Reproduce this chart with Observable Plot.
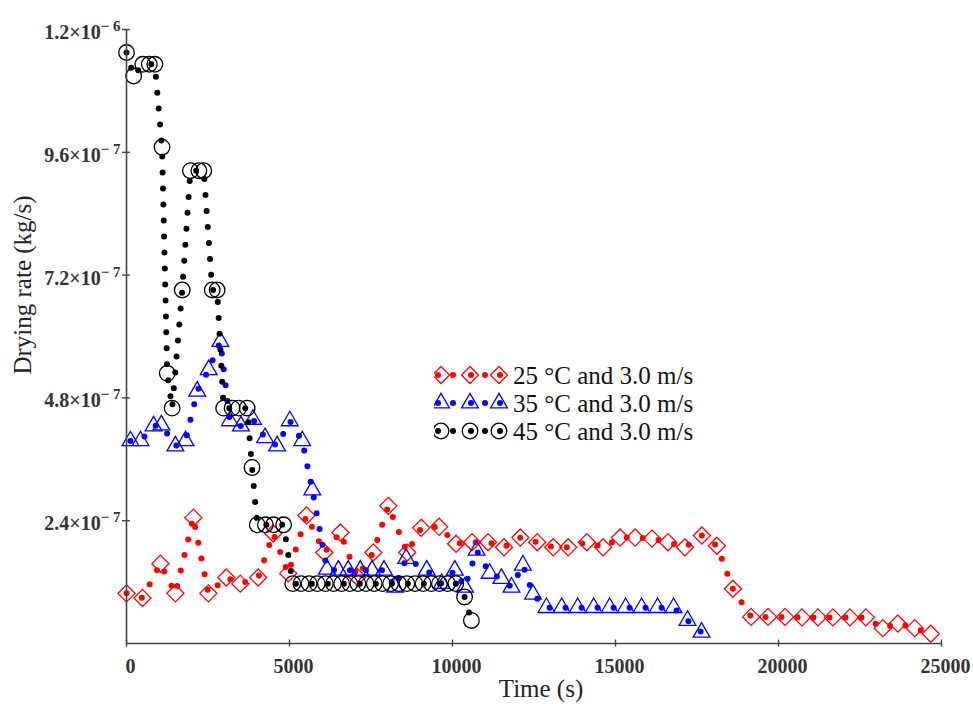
<!DOCTYPE html>
<html><head><meta charset="utf-8">
<script src="https://cdn.jsdelivr.net/npm/d3@7"></script>
<script src="https://cdn.jsdelivr.net/npm/@observablehq/plot@0.6"></script>
<style>body{margin:0;background:#fff;} #chart{position:relative;width:973px;height:704px;}</style>
</head><body><div id="chart"></div>
<script>
// ---- data (time in s, drying rate in kg/s) ----
const redT = [0,490,1040,1500,2050,2510,3060,3490,4040,4500,4960,5520,6070,6560,7080,7570,8030,8610,9040,9590,10110,10600,11090,11580,12080,12600,13090,13550,14120,14620,15140,15600,16120,16610,17130,17650,18110,18600,19160,19680,20200,20720,21210,21670,22190,22680,23200,23660,24180,24670];
const redV = [0.98e-7,0.89e-7,1.56e-7,0.98e-7,2.46e-7,0.98e-7,1.29e-7,1.17e-7,1.29e-7,2.15e-7,1.37e-7,2.50e-7,1.78e-7,2.17e-7,1.30e-7,1.78e-7,2.69e-7,1.78e-7,2.26e-7,2.28e-7,1.95e-7,1.98e-7,1.98e-7,1.88e-7,2.07e-7,1.98e-7,1.88e-7,1.88e-7,1.98e-7,1.88e-7,2.07e-7,2.07e-7,2.05e-7,1.98e-7,1.88e-7,2.11e-7,1.91e-7,1.07e-7,0.52e-7,0.52e-7,0.52e-7,0.51e-7,0.51e-7,0.51e-7,0.51e-7,0.51e-7,0.30e-7,0.39e-7,0.30e-7,0.19e-7];

const blueT = [120,430,830,1070,1500,1810,2170,2520,2880,3170,3510,3880,4250,4620,5010,5390,5700,6150,6500,6800,7170,7530,7900,8240,8580,9210,9670,10070,10380,10740,11140,11500,11810,12160,12470,12880,13350,13840,14330,14820,15310,15800,16290,16780,17210,17640];
const blueV = [3.96e-7,3.96e-7,4.25e-7,4.27e-7,3.86e-7,3.96e-7,4.93e-7,5.35e-7,5.90e-7,4.35e-7,4.25e-7,4.38e-7,4.02e-7,3.86e-7,4.35e-7,3.96e-7,3.00e-7,1.45e-7,1.43e-7,1.43e-7,1.43e-7,1.43e-7,1.43e-7,1.10e-7,1.66e-7,1.43e-7,1.17e-7,1.43e-7,1.10e-7,1.82e-7,1.37e-7,1.27e-7,1.10e-7,1.53e-7,0.96e-7,0.70e-7,0.70e-7,0.70e-7,0.70e-7,0.70e-7,0.70e-7,0.70e-7,0.70e-7,0.70e-7,0.45e-7,0.22e-7];

const blackT = [0,220,500,700,870,1090,1250,1400,1710,1960,2220,2370,2630,2780,2980,3240,3440,3700,3850,4010,4260,4510,4820,5100,5350,5600,5850,6100,6350,6600,6850,7100,7350,7600,7850,8100,8350,8600,8850,9100,9350,9600,9850,10100,10370,10580];
const blackV = [11.55e-7,11.09e-7,11.32e-7,11.32e-7,11.32e-7,9.70e-7,5.28e-7,4.60e-7,6.91e-7,9.24e-7,9.24e-7,9.24e-7,6.91e-7,6.91e-7,4.60e-7,4.60e-7,4.60e-7,4.60e-7,3.44e-7,2.32e-7,2.32e-7,2.32e-7,2.32e-7,1.17e-7,1.17e-7,1.17e-7,1.17e-7,1.17e-7,1.17e-7,1.17e-7,1.17e-7,1.17e-7,1.17e-7,1.17e-7,1.17e-7,1.17e-7,1.17e-7,1.17e-7,1.17e-7,1.17e-7,1.17e-7,1.17e-7,1.17e-7,1.17e-7,0.91e-7,0.45e-7];

const seriesNames = ["25 °C and 3.0 m/s", "35 °C and 3.0 m/s", "45 °C and 3.0 m/s"];
const seriesColors = ["#ff0000", "#0000ff", "#000000"];
const seriesSymbols = ["diamond2", "triangle2", "circle"];

const xTicks = [0, 5000, 10000, 15000, 20000, 25000];
const xTickLabels = ["0", "5000", "10000", "15000", "20000", "25000"];
const yTicks = [2.4e-7, 4.8e-7, 7.2e-7, 9.6e-7, 1.2e-6];
const yTickLabels = ["2.4×10^− 7", "4.8×10^− 7", "7.2×10^− 7", "9.6×10^− 7", "1.2×10^− 6"];
const xTitle = "Time (s)";
const yTitle = "Drying rate (kg/s)";

const toRows = (T, V) => T.map((t, i) => ({t, v: V[i]}));
const series = [toRows(redT, redV), toRows(blueT, blueV), toRows(blackT, blackV)];
const markerR = [7.7, 8.0, 7.8];

const seriesMarks = series.flatMap((rows, k) => [
  Plot.line(rows, {x: "t", y: "v", stroke: seriesColors[k], strokeWidth: 6, strokeDasharray: "0,16", strokeLinecap: "round"}),
  Plot.dot(rows, {x: "t", y: "v", symbol: seriesSymbols[k], r: markerR[k], stroke: seriesColors[k], strokeWidth: 1.3, fill: "none"})
]);

const chart = Plot.plot({
  width: 973, height: 704,
  marginLeft: 126, marginRight: 32, marginTop: 29, marginBottom: 61,
  x: {domain: [0, 25000]},
  y: {domain: [0, 1.2e-6]},
  style: {fontFamily: "'Liberation Serif', 'Times New Roman', serif", background: "#fff", overflow: "visible"},
  marks: [
    ...seriesMarks,
    Plot.ruleX([0], {stroke: "#444", strokeWidth: 1.6}),
    Plot.ruleY([0], {stroke: "#444", strokeWidth: 1.6}),
    Plot.axisX(xTicks, {tickSize: 7, dy: -3.5, stroke: "#444", strokeWidth: 1.4, tickFormat: () => "", label: null}),
    Plot.axisX(xTicks, {tickSize: 0, tickPadding: 15, dx: 4, fill: "#333", fontSize: 20, fontWeight: "bold",
      tickFormat: d => xTickLabels[xTicks.indexOf(d)], label: null}),
    Plot.axisY(yTicks, {tickSize: 8, dx: 4, stroke: "#444", strokeWidth: 1.4, tickFormat: () => "", label: null}),
    Plot.axisY(yTicks, {tickSize: 0, tickPadding: 6, dy: 3, fill: "#333", fontSize: 20, fontWeight: "bold",
      tickFormat: d => yTickLabels[yTicks.indexOf(d)], label: null})
  ]
});
document.getElementById("chart").appendChild(chart);

const svg = d3.select(chart);
// superscripts for y tick labels
svg.selectAll("text").each(function() {
  const s = this.textContent;
  if (s.includes("^")) {
    const [base, sup] = s.split("^");
    const el = d3.select(this);
    el.text(null);
    el.append("tspan").text(base);
    el.append("tspan").attr("dy", -8).attr("font-size", 15).text(sup);
  }
});

// axis titles
svg.append("text").attr("x", 541).attr("y", 697).attr("text-anchor", "middle")
  .attr("font-size", 25).attr("fill", "#222").text(xTitle);
svg.append("text").attr("transform", "translate(31,285) rotate(-90)").attr("text-anchor", "middle")
  .attr("font-size", 25).attr("fill", "#222").text(yTitle);

// legend
const lg = svg.append("g").attr("text-anchor", "start");
const rowBase = [384, 412, 440];
const d3Symbols = {diamond2: d3.symbolDiamond2, triangle2: d3.symbolTriangle2, circle: d3.symbolCircle};
seriesNames.forEach((name, k) => {
  const cy = rowBase[k] - 9;
  const clipId = "lgclip" + k;
  lg.append("clipPath").attr("id", clipId).append("rect").attr("x", 434).attr("y", cy - 14).attr("width", 76).attr("height", 28);
  const g = lg.append("g").attr("clip-path", `url(#${clipId})`);
  const path = d3.symbol(d3Symbols[seriesSymbols[k]], Math.PI * markerR[k] * markerR[k])();
  [441, 470, 499].forEach(x => g.append("path").attr("d", path).attr("transform", `translate(${x},${cy})`)
    .attr("fill", "none").attr("stroke", seriesColors[k]).attr("stroke-width", 1.3));
  [438, 453, 471, 485, 500].forEach(x => g.append("circle").attr("cx", x).attr("cy", cy).attr("r", 3).attr("fill", seriesColors[k]));
  lg.append("text").attr("x", 513).attr("y", rowBase[k]).attr("text-anchor", "start")
    .attr("font-size", 25).attr("fill", "#111").text(name);
});
</script></body></html>
